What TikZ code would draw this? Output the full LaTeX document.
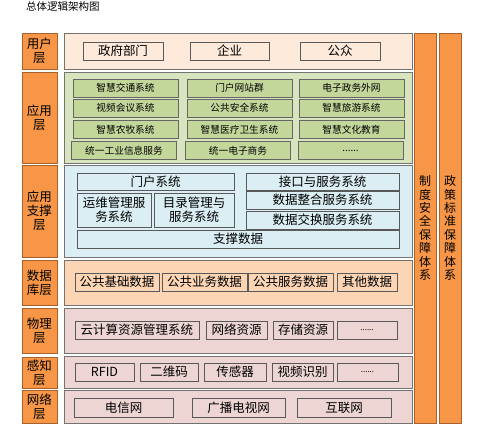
\documentclass[tikz,border=0pt]{standalone}
\usepackage{fontspec}
\setmainfont{Noto Sans CJK SC}
\usetikzlibrary{positioning}

\definecolor{orng}{HTML}{F79646}
\definecolor{orngline}{HTML}{A8612C}
\definecolor{userfill}{HTML}{FDEADA}
\definecolor{appfill}{HTML}{D7E4BD}
\definecolor{appitem}{HTML}{C4D79B}
\definecolor{supfill}{HTML}{DAEEF3}
\definecolor{datafill}{HTML}{FCD5B5}
\definecolor{physfill}{HTML}{EDD5D4}

\begin{document}
\begin{tikzpicture}[x=1pt,y=-1pt,
    tagbox/.style={rectangle,draw=orngline,fill=orng,line width=0.8pt,inner sep=0pt,
      align=center,font=\fontsize{12.5}{14}\selectfont},
    layerbox/.style={rectangle,draw=black!55,line width=0.8pt,inner sep=0pt},
    itembox/.style={rectangle,draw=black!65,line width=0.7pt,inner sep=0pt,
      align=center,font=\fontsize{12.5}{14}\selectfont},
    smallitem/.style={itembox,fill=appitem,draw=black!60,font=\fontsize{9.7}{11}\selectfont}]
    \useasboundingbox (0,0) rectangle (499,444);

    \node[anchor=west,font=\fontsize{10.5}{12}\selectfont,inner sep=0pt] (title) at (26,7) {总体逻辑架构图};

    % left column
    \node[tagbox,minimum width=35,minimum height=36] (t1) at (39.5,51) {用户\\层};
    \node[tagbox,minimum width=35,minimum height=91] (t2) at (39.5,117.5) {应用\\层};
    \node[tagbox,minimum width=35,minimum height=92] (t3) at (39.5,211) {应用\\支撑\\层};
    \node[tagbox,minimum width=35,minimum height=45] (t4) at (39.5,282.5) {数据\\库层};
    \node[tagbox,minimum width=35,minimum height=45] (t5) at (39.5,330.5) {物理\\层};
    \node[tagbox,minimum width=35,minimum height=31] (t6) at (39.5,372.5) {感知\\层};
    \node[tagbox,minimum width=35,minimum height=33] (t7) at (39.5,406.5) {网络\\层};

    % right columns
    \node[tagbox,minimum width=22,minimum height=390,font=\fontsize{12}{13.4}\selectfont] (r1) at (425,228) {制\\度\\安\\全\\保\\障\\体\\系};
    \node[tagbox,minimum width=22,minimum height=390,font=\fontsize{12}{13.4}\selectfont] (r2) at (450,228) {政\\策\\标\\准\\保\\障\\体\\系};

    % layers
    \node[layerbox,fill=userfill,minimum width=348,minimum height=36] (l1) at (238,51) {};
    \node[layerbox,fill=appfill,minimum width=348,minimum height=91] (l2) at (238,117.5) {};
    \node[layerbox,fill=supfill,minimum width=348,minimum height=92] (l3) at (238,211) {};
    \node[layerbox,fill=datafill,minimum width=348,minimum height=45] (l4) at (238,282.5) {};
    \node[layerbox,fill=physfill,minimum width=348,minimum height=45] (l5) at (238,330.5) {};
    \node[layerbox,fill=physfill,minimum width=348,minimum height=32] (l6) at (238,372) {};
    \node[layerbox,fill=physfill,minimum width=348,minimum height=33] (l7) at (238,406.5) {};

    % user layer
    \node[itembox,fill=userfill,minimum width=80,minimum height=18] (u1) at (123,51) {政府部门};
    \node[itembox,fill=userfill,minimum width=79,minimum height=18] (u2) at (229.5,51) {企业};
    \node[itembox,fill=userfill,minimum width=80,minimum height=18] (u3) at (340,51) {公众};

    % application layer
    \node[smallitem,minimum width=105,minimum height=18] (a1) at (125.5,88) {智慧交通系统};
    \node[smallitem,minimum width=105,minimum height=18] (a2) at (239.5,88) {门户网站群};
    \node[smallitem,minimum width=105,minimum height=18] (a3) at (351.5,88) {电子政务外网};
    \node[smallitem,minimum width=105,minimum height=18] (a4) at (125.5,108) {视频会议系统};
    \node[smallitem,minimum width=105,minimum height=18] (a5) at (239.5,108) {公共安全系统};
    \node[smallitem,minimum width=105,minimum height=18] (a6) at (351.5,108) {智慧旅游系统};
    \node[smallitem,minimum width=105,minimum height=18] (a7) at (125.5,129.5) {智慧农牧系统};
    \node[smallitem,minimum width=105,minimum height=18] (a8) at (239.5,129.5) {智慧医疗卫生系统};
    \node[smallitem,minimum width=105,minimum height=18] (a9) at (351.5,129.5) {智慧文化教育};
    \node[smallitem,minimum width=105,minimum height=18] (a10) at (124,150.5) {统一工业信息服务};
    \node[smallitem,minimum width=105,minimum height=18] (a11) at (238,150.5) {统一电子商务};
    \node[smallitem,minimum width=105,minimum height=18] (a12) at (350.5,150.5) {......};

    % support layer
    \node[itembox,fill=supfill,minimum width=157,minimum height=17] (s1) at (155.5,181.5) {门户系统};
    \node[itembox,fill=supfill,minimum width=74,minimum height=34] (s2) at (114,210) {运维管理服\\务系统};
    \node[itembox,fill=supfill,minimum width=80,minimum height=34] (s3) at (194,210) {目录管理与\\服务系统};
    \node[itembox,fill=supfill,minimum width=153,minimum height=17] (s4) at (322.5,181.5) {接口与服务系统};
    \node[itembox,fill=supfill,minimum width=153,minimum height=18] (s5) at (322.5,200) {数据整合服务系统};
    \node[itembox,fill=supfill,minimum width=153,minimum height=18] (s6) at (322.5,220) {数据交换服务系统};
    \node[itembox,fill=supfill,minimum width=322,minimum height=18] (s7) at (238,239) {支撑数据};

    % data layer
    \node[itembox,fill=datafill,minimum width=84,minimum height=18] (d1) at (117,282) {公共基础数据};
    \node[itembox,fill=datafill,minimum width=85,minimum height=18] (d2) at (204.5,282) {公共业务数据};
    \node[itembox,fill=datafill,minimum width=85,minimum height=18] (d3) at (290.5,282) {公共服务数据};
    \node[itembox,fill=datafill,minimum width=60,minimum height=18] (d4) at (367,282) {其他数据};

    % physical layer
    \node[itembox,fill=physfill,minimum width=124,minimum height=18] (p1) at (137,330) {云计算资源管理系统};
    \node[itembox,fill=physfill,minimum width=61,minimum height=18] (p2) at (236.5,330) {网络资源};
    \node[itembox,fill=physfill,minimum width=60,minimum height=18] (p3) at (303,330) {存储资源};
    \node[itembox,fill=physfill,minimum width=60,minimum height=18,font=\fontsize{8}{9}\selectfont] (p4) at (367,330) {......};

    % sensing layer
    \node[itembox,fill=physfill,minimum width=59,minimum height=18] (k1) at (104.5,372) {RFID};
    \node[itembox,fill=physfill,minimum width=58,minimum height=18] (k2) at (169,372) {二维码};
    \node[itembox,fill=physfill,minimum width=62,minimum height=18] (k3) at (235,372) {传感器};
    \node[itembox,fill=physfill,minimum width=61,minimum height=18] (k4) at (302.5,372) {视频识别};
    \node[itembox,fill=physfill,minimum width=61,minimum height=18,font=\fontsize{8}{9}\selectfont] (k5) at (367.5,372) {......};

    % network layer
    \node[itembox,fill=physfill,minimum width=99,minimum height=19] (n1) at (123.5,407.5) {电信网};
    \node[itembox,fill=physfill,minimum width=93,minimum height=19] (n2) at (238.5,407.5) {广播电视网};
    \node[itembox,fill=physfill,minimum width=94,minimum height=19] (n3) at (344,407.5) {互联网};
\end{tikzpicture}
\end{document}
